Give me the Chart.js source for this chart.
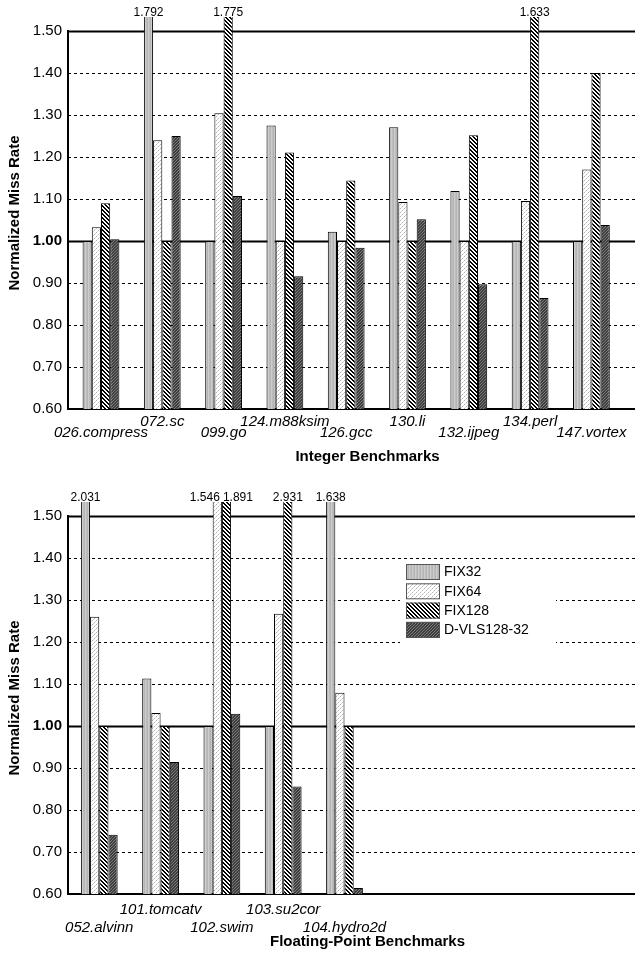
<!DOCTYPE html>
<html><head><meta charset="utf-8">
<script src="https://cdn.jsdelivr.net/npm/chart.js@4.4.1/dist/chart.umd.min.js"></script>
<style>
html,body{margin:0;padding:0;background:#fff;overflow:hidden;width:635px;height:957px;position:relative}
#w1{position:absolute;left:0;top:0;width:700px;height:468px}
#w2{position:absolute;left:0;top:468px;width:700px;height:489px}
</style></head><body>
<div id="w1"><canvas id="c1"></canvas></div>
<div id="w2"><canvas id="c2"></canvas></div>
<script>
// ---------- data ----------
const seriesNames = ['FIX32', 'FIX64', 'FIX128', 'D-VLS128-32'];
const yTicks = [0.60, 0.70, 0.80, 0.90, 1.00, 1.10, 1.20, 1.30, 1.40, 1.50];

const intCategories = ['026.compress', '072.sc', '099.go', '124.m88ksim', '126.gcc', '130.li', '132.ijpeg', '134.perl', '147.vortex'];
const intFIX32  = [1.000, 1.792, 1.000, 1.275, 1.022, 1.271, 1.119, 1.000, 1.000];
const intFIX64  = [1.033, 1.240, 1.304, 1.000, 1.000, 1.093, 1.000, 1.095, 1.170];
const intFIX128 = [1.090, 1.000, 1.775, 1.211, 1.144, 1.000, 1.252, 1.633, 1.400];
const intDVLS   = [1.004, 1.250, 1.107, 0.916, 0.984, 1.052, 0.897, 0.864, 1.038];

const fpCategories = ['052.alvinn', '101.tomcatv', '102.swim', '103.su2cor', '104.hydro2d'];
const fpFIX32  = [2.031, 1.113, 1.000, 1.000, 1.638];
const fpFIX64  = [1.260, 1.031, 1.546, 1.267, 1.079];
const fpFIX128 = [1.000, 1.000, 1.891, 2.931, 1.000];
const fpDVLS   = [0.741, 0.914, 1.029, 0.856, 0.614];

// ---------- patterns ----------
function makePattern(w, h, fn) {
  const c = document.createElement('canvas'); c.width = w; c.height = h;
  const g = c.getContext('2d'); fn(g, w, h);
  return g.createPattern(c, 'repeat');
}
const patFIX32 = makePattern(3, 1, (g) => {
  g.fillStyle = '#b4b4b4'; g.fillRect(0, 0, 1, 1);
  g.fillStyle = '#cdcdcd'; g.fillRect(1, 0, 1, 1);
  g.fillStyle = '#bdbdbd'; g.fillRect(2, 0, 1, 1);
});
const patFIX64 = makePattern(4, 4, (g) => {
  g.fillStyle = '#ffffff'; g.fillRect(0, 0, 4, 4);
  g.fillStyle = '#b0b0b0'; g.fillRect(0, 0, 1, 1); g.fillRect(2, 2, 1, 1);
  g.fillStyle = '#d8d8d8'; g.fillRect(1, 3, 1, 1); g.fillRect(3, 1, 1, 1);
});
const patFIX128 = makePattern(4, 4, (g) => {
  g.fillStyle = '#ffffff'; g.fillRect(0, 0, 4, 4);
  g.fillStyle = '#000000';
  for (let y = 0; y < 4; y++) for (let x = 0; x < 4; x++) {
    const d = ((x - y) % 4 + 4) % 4; if (d === 0 || d === 1) g.fillRect(x, y, 1, 1);
  }
});
const patDVLS = makePattern(3, 3, (g) => {
  g.fillStyle = '#3e3e3e'; g.fillRect(0, 0, 3, 3);
  g.fillStyle = '#7c7c7c';
  for (let y = 0; y < 3; y++) for (let x = 0; x < 3; x++) if ((x + y) % 3 === 0) g.fillRect(x, y, 1, 1);
});
const patterns = [patFIX32, patFIX64, patFIX128, patDVLS];

const FONT = "'Liberation Sans', Arial, Helvetica, sans-serif";

// ---------- plugins ----------
const gridPlugin = {
  id: 'dashGrid',
  beforeDatasetsDraw(chart) {
    const { ctx, chartArea } = chart; const ys = chart.scales.y;
    ctx.save();
    yTicks.forEach((v) => {
      if (Math.abs(v - 0.6) < 1e-9) return;
      const y = Math.round(ys.getPixelForValue(v)) + 0.5;
      const solid = Math.abs(v - 1.0) < 1e-9 || Math.abs(v - 1.5) < 1e-9;
      ctx.beginPath();
      ctx.strokeStyle = '#000';
      ctx.lineWidth = solid ? 2 : 1;
      ctx.setLineDash(solid ? [] : [3, 3]);
      ctx.moveTo(chartArea.left, y); ctx.lineTo(chartArea.right, y); ctx.stroke();
    });
    ctx.restore();
  },
  afterDatasetsDraw(chart) {
    const { ctx, chartArea } = chart; const ys = chart.scales.y;
    const yTop = Math.round(ys.getPixelForValue(yTicks[yTicks.length - 1]));
    ctx.save();
    ctx.strokeStyle = '#000'; ctx.lineWidth = 2; ctx.setLineDash([]);
    ctx.beginPath();
    ctx.moveTo(chartArea.left, yTop - 1); ctx.lineTo(chartArea.left, chartArea.bottom + 1);
    ctx.stroke();
    ctx.restore();
  }
};

const valueLabelPlugin = {
  id: 'overflowLabels',
  afterDatasetsDraw(chart) {
    const { ctx, chartArea } = chart; const ys = chart.scales.y;
    const n = chart.data.datasets.length;
    const over = (d, i) => d >= 0 && d < n && chart.data.datasets[d].data[i].y > ys.max;
    ctx.save();
    ctx.font = '12px ' + FONT; ctx.fillStyle = '#000'; ctx.textBaseline = 'alphabetic';
    chart.data.datasets.forEach((ds, d) => {
      const meta = chart.getDatasetMeta(d);
      ds.data.forEach((pt, i) => {
        if (!over(d, i)) return;
        const el = meta.data[i];
        let x = el.x, align = 'center';
        if (over(d + 1, i)) { x = el.x + el.width / 2 - 2; align = 'right'; }
        else if (over(d - 1, i)) { x = el.x - el.width / 2 + 1; align = 'left'; }
        ctx.textAlign = align;
        ctx.fillText(pt.y.toFixed(3), x, chartArea.top - 1);
      });
    });
    ctx.restore();
  }
};

const legendPlugin = {
  id: 'innerLegend',
  afterDraw(chart) {
    if (!chart.options.plugins.innerLegend || !chart.options.plugins.innerLegend.show) return;
    const { ctx, chartArea } = chart;
    const bx = chartArea.left + 338, by = chartArea.top + 62;
    ctx.save();
    ctx.fillStyle = '#fff';
    ctx.fillRect(bx - 6, by - 4, 156, 88);
    seriesNames.forEach((name, k) => {
      const y = by + k * 19.3;
      ctx.fillStyle = patterns[k];
      ctx.fillRect(bx, y, 34, 16);
      ctx.strokeStyle = '#555'; ctx.lineWidth = 1;
      ctx.strokeRect(bx + 0.5, y + 0.5, 33, 15);
      ctx.fillStyle = '#000'; ctx.font = '14px ' + FONT;
      ctx.textAlign = 'left'; ctx.textBaseline = 'middle';
      ctx.fillText(name, bx + 38, y + 8.5);
    });
    ctx.restore();
  }
};

// ---------- builder ----------
function buildChart(canvasId, categories, series, xMin, xMax, title, opts) {
  const datasets = series.map((vals, k) => ({
    label: seriesNames[k],
    data: vals.map((v, i) => ({ x: i, y: v })),
    backgroundColor: patterns[k],
    borderColor: '#000',
    borderWidth: 1,
    borderSkipped: 'bottom',
    categoryPercentage: 0.6,
    barPercentage: 1.0,
    clip: 0
  }));
  return new Chart(document.getElementById(canvasId), {
    type: 'bar',
    data: { datasets },
    options: {
      responsive: true, maintainAspectRatio: false, animation: false,
      devicePixelRatio: 1,
      layout: { padding: { top: opts.padTop, right: 33, bottom: opts.padBottom, left: 0 } },
      plugins: { legend: { display: false }, tooltip: { enabled: false },
        innerLegend: { show: opts.legend } },
      scales: {
        x: {
          type: 'linear', min: xMin, max: xMax, offset: false, z: 1,
          grid: { display: false, drawTicks: false },
          border: { display: true, color: '#000', width: 2 },
          afterBuildTicks: (axis) => { axis.ticks = categories.map((c, i) => ({ value: i })); },
          ticks: {
            autoSkip: false, maxRotation: 0, minRotation: 0, padding: opts.tickPad,
            color: '#000',
            font: { family: FONT, size: 15, style: 'italic', lineHeight: opts.labelLH },
            callback: (v) => { const i = Math.round(v); const c = categories[i]; return i % 2 ? [c, ''] : ['', c]; }
          },
          title: { display: true, text: title, color: '#000',
            font: { family: FONT, size: 15, weight: 'bold' }, padding: { top: opts.titlePad, bottom: 0 } }
        },
        y: {
          type: 'linear', min: 0.6, max: 1.5 + 14 / 420, z: 1,
          grid: { display: false, drawTicks: false },
          border: { display: false },
          afterBuildTicks: (axis) => { axis.ticks = yTicks.map((v) => ({ value: v })); },
          afterFit: (axis) => { axis.width = 68; },
          ticks: {
            padding: 6, color: '#000',
            font: (ctx) => ({ family: FONT, size: 15, weight: (ctx.tick && Math.abs(ctx.tick.value - 1) < 1e-9) ? 'bold' : 'normal' }),
            callback: (v) => Number(v).toFixed(2)
          },
          title: { display: true, text: 'Normalized Miss Rate', color: '#000',
            font: { family: FONT, size: 15, weight: 'bold' }, padding: { top: 6, bottom: 4 } }
        }
      }
    },
    plugins: [gridPlugin, valueLabelPlugin, legendPlugin]
  });
}

buildChart('c1', intCategories, [intFIX32, intFIX64, intFIX128, intDVLS],
  -0.538, 9.233, 'Integer Benchmarks',
  { padTop: 17, padBottom: 2, tickPad: 7, labelLH: 0.767, titlePad: 2, legend: false });

buildChart('c2', fpCategories, [fpFIX32, fpFIX64, fpFIX128, fpDVLS],
  -0.51, 9.26, 'Floating-Point Benchmarks',
  { padTop: 34, padBottom: 6, tickPad: 7, labelLH: 1.2, titlePad: -11, legend: true });
</script>
</body></html>
